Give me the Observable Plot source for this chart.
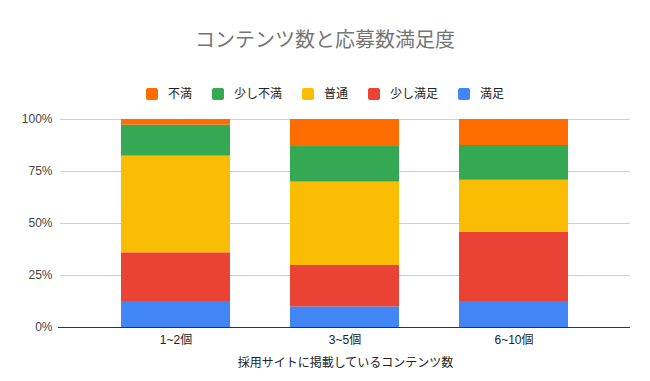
<!DOCTYPE html>
<html>
<head>
<meta charset="utf-8">
<script src="https://cdn.jsdelivr.net/npm/d3@7"></script>
<script src="https://cdn.jsdelivr.net/npm/@observablehq/plot@0.6"></script>
<style>
  html, body { margin: 0; padding: 0; background: #fff; }
  body { width: 650px; height: 381px; overflow: hidden; font-family: "Liberation Sans", Arial, "Noto Sans CJK JP", sans-serif; }
  #title { box-sizing: border-box; height: 70px; padding-top: 28px; text-align: center; font-size: 20px; line-height: 24px; color: #757575; }
  #legend { box-sizing: border-box; height: 36px; padding-top: 11px; display: flex; justify-content: center; font-size: 12px; line-height: 14px; color: #222; }
  .item { display: flex; align-items: center; margin: 0 10px; }
  .sw { width: 12px; height: 12px; border-radius: 2px; margin-right: 10px; }
  #chart svg { display: block; }
</style>
</head>
<body>
<div id="title"></div>
<div id="legend"></div>
<div id="chart"></div>
<script>
const chartTitle = "コンテンツ数と応募数満足度";
const xTitle = "採用サイトに掲載しているコンテンツ数";
const categories = ["1~2個", "3~5個", "6~10個"];
const legendOrder = ["不満", "少し不満", "普通", "少し満足", "満足"];
const stackOrder = ["満足", "少し満足", "普通", "少し不満", "不満"];
const colors = ["#ff6d01", "#34a853", "#fbbc04", "#ea4335", "#4285f4"];
// percent values per series, in category order
const fuman = [2.7, 13.0, 12.5];
const sukoshiFuman = [14.9, 17.1, 16.7];
const futsu = [46.5, 40.1, 25.0];
const sukoshiManzoku = [23.4, 19.9, 33.3];
const manzoku = [12.5, 9.9, 12.5];
const yTicks = [0, 0.25, 0.5, 0.75, 1];

const seriesValues = {
  "不満": fuman, "少し不満": sukoshiFuman, "普通": futsu,
  "少し満足": sukoshiManzoku, "満足": manzoku
};
const data = [];
for (const s of stackOrder) {
  categories.forEach((c, i) => data.push({category: c, series: s, value: seriesValues[s][i] / 100}));
}

document.getElementById("title").textContent = chartTitle;
const legend = document.getElementById("legend");
legendOrder.forEach((s, i) => {
  const it = document.createElement("div");
  it.className = "item";
  const sw = document.createElement("span");
  sw.className = "sw";
  sw.style.background = colors[i];
  const lb = document.createElement("span");
  lb.textContent = s;
  it.appendChild(sw); it.appendChild(lb);
  legend.appendChild(it);
});

const chart = Plot.plot({
  width: 650,
  height: 275,
  marginTop: 13,
  marginBottom: 54,
  marginLeft: 60,
  marginRight: 20,
  style: {fontFamily: '"Liberation Sans", Arial, "Noto Sans CJK JP", sans-serif', fontSize: "12px", color: "#444", background: "#fff"},
  x: {domain: categories, paddingInner: 0.353, paddingOuter: 0.353},
  y: {domain: [0, 1]},
  color: {domain: legendOrder, range: colors},
  marks: [
    Plot.ruleY(yTicks.filter(d => d > 0), {stroke: "#d0d0d0", strokeWidth: 1}),
    Plot.barY(data, Plot.stackY({order: stackOrder}, {x: "category", y: "value", fill: "series", z: "series"})),
    Plot.ruleY([0], {stroke: "#333", strokeWidth: 1, insetLeft: -2}),
    Plot.axisY({ticks: yTicks, tickFormat: d3.format(".0%"), tickSize: 0, tickPadding: 8, label: null, fill: "#444", fontSize: 12}),
    Plot.axisX({tickSize: 0, tickPadding: 8, label: xTitle, labelAnchor: "center", labelOffset: 39, labelArrow: "none", fill: "#222", fontSize: 12})
  ]
});
document.getElementById("chart").appendChild(chart);
</script>
</body>
</html>
